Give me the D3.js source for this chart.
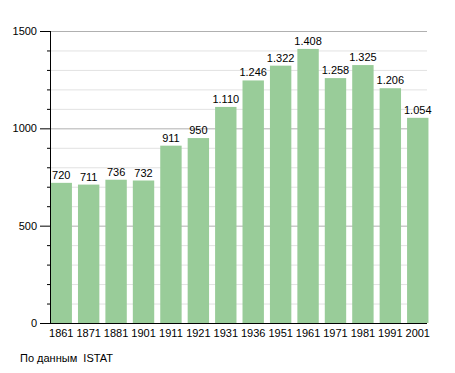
<!DOCTYPE html>
<html>
<head>
<meta charset="utf-8">
<script src="https://d3js.org/d3.v7.min.js"></script>
<style>
body { margin: 0; background: #fff; }
text { font-family: "Liberation Sans", Arial, sans-serif; font-size: 11px; fill: #000; }
</style>
</head>
<body>
<svg class="chart"></svg>
<script>
// dati
const years = ["1861","1871","1881","1901","1911","1921","1931","1936","1951","1961","1971","1981","1991","2001"]
const population = [720, 711, 736, 732, 911, 950, 1110, 1246, 1322, 1408, 1258, 1325, 1206, 1054]
const yTicks = [0, 500, 1000, 1500]
const minorTicks = d3.range(0, 1501, 100)
const source = "По данным\u00a0 ISTAT"

const w = 455, h = 373
const padLeft = 50, padRight = 429, padTop = 31, padBottom = 323

const svg = d3.select('.chart').attr('width', w).attr('height', h)

const x = d3.scaleBand().domain(years).range([padLeft, padRight]).paddingInner(0.22).paddingOuter(0.02)
const y = d3.scaleLinear().domain([0, 1500]).range([padBottom, padTop])

// griglia secondaria
svg.append('g').selectAll('line').data(minorTicks.filter(d => d % 500 !== 0)).enter()
  .append('line')
  .attr('x1', padLeft).attr('x2', padRight - 2)
  .attr('y1', d => y(d) + 0.5).attr('y2', d => y(d) + 0.5)
  .style('stroke', '#e2e2e2')

// griglia principale
svg.append('g').selectAll('line').data(yTicks.filter(d => d > 0)).enter()
  .append('line')
  .attr('x1', padLeft).attr('x2', padRight - 2)
  .attr('y1', d => y(d) + 0.5).attr('y2', d => y(d) + 0.5)
  .style('stroke', '#b0b0b0')

// barre
svg.append('g').selectAll('rect').data(population).enter()
  .append('rect')
  .attr('x', (d, i) => x(years[i]))
  .attr('width', x.bandwidth())
  .attr('y', d => y(d))
  .attr('height', d => padBottom - y(d))
  .style('fill', '#99cc99')

// etichette valori
const fmt = d3.formatLocale({decimal: ",", thousands: ".", grouping: [3], currency: ["", ""]}).format(",d")
svg.append('g').selectAll('text').data(population).enter()
  .append('text')
  .attr('x', (d, i) => x(years[i]) + x.bandwidth() / 2)
  .attr('y', d => y(d) - 4)
  .attr('text-anchor', 'middle')
  .text(d => fmt(d))

// asse y
const yAxis = d3.axisLeft(y).tickValues(yTicks).tickFormat(d3.format('d')).tickSize(10).tickPadding(3)
const gy = svg.append('g').attr('transform', 'translate(' + padLeft + ',0)').call(yAxis)
gy.select('.domain').remove()
gy.selectAll('line').style('stroke', '#000')
gy.selectAll('text').style('font-size', '11px').style('font-family', '"Liberation Sans", Arial, sans-serif')
svg.append('g').selectAll('line').data(minorTicks.filter(d => d % 500 !== 0)).enter()
  .append('line')
  .attr('x1', padLeft - 3).attr('x2', padLeft)
  .attr('y1', d => y(d) + 0.5).attr('y2', d => y(d) + 0.5)
  .style('stroke', '#000')
svg.append('line').attr('x1', padLeft + 0.5).attr('x2', padLeft + 0.5).attr('y1', padTop).attr('y2', padBottom + 1)
  .style('stroke', '#000')

// asse x
const xAxis = d3.axisBottom(x).tickSize(0).tickPadding(6)
const gx = svg.append('g').attr('transform', 'translate(0,' + padBottom + ')').call(xAxis)
gx.select('.domain').remove()
gx.selectAll('text').style('font-size', '11px').style('font-family', '"Liberation Sans", Arial, sans-serif')
svg.append('line').attr('x1', padLeft).attr('x2', padRight - 2).attr('y1', padBottom + 0.5).attr('y2', padBottom + 0.5)
  .style('stroke', '#000')

// fonte
svg.append('text').attr('x', 20).attr('y', 362).text(source)
</script>
</body>
</html>
